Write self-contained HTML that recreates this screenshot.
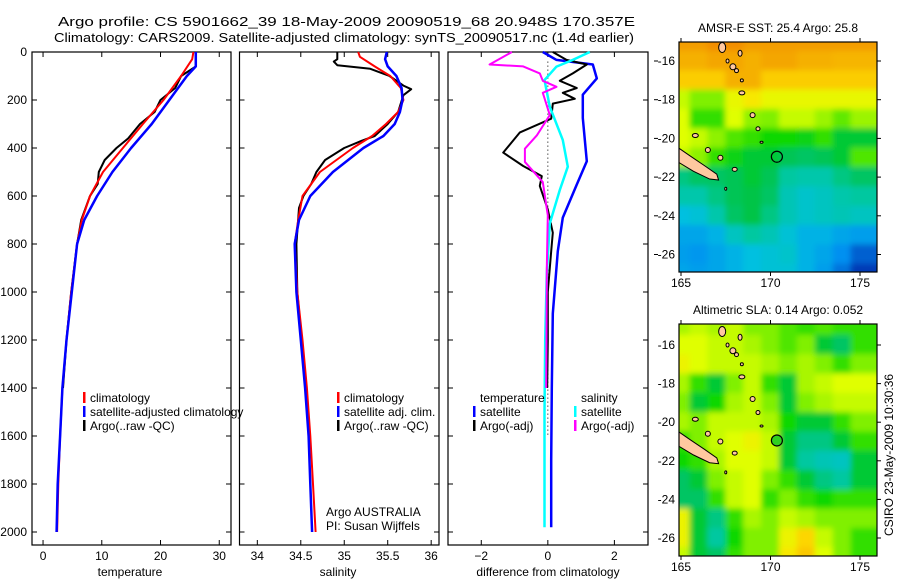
<!DOCTYPE html>
<html><head><meta charset="utf-8"><style>
body{margin:0;background:#fff}
svg{display:block;font-family:"Liberation Sans",sans-serif}
</style></head><body>
<svg id="fig" width="900" height="580" viewBox="0 0 900 580" xmlns="http://www.w3.org/2000/svg">
<defs>
<filter id="blur" filterUnits="userSpaceOnUse" x="640" y="0" width="280" height="580"><feGaussianBlur stdDeviation="3"/></filter>
<clipPath id="clipTop"><rect x="679" y="42" width="198" height="230"/></clipPath>
<clipPath id="clipBot"><rect x="679" y="324" width="198" height="232"/></clipPath>
</defs>
<text x="58" y="26" font-size="13" textLength="577" lengthAdjust="spacingAndGlyphs">Argo profile: CS 5901662_39 18-May-2009 20090519_68 20.948S 170.357E</text>
<text x="54" y="42" font-size="13" textLength="580" lengthAdjust="spacingAndGlyphs">Climatology: CARS2009. Satellite-adjusted climatology: synTS_20090517.nc (1.4d earlier)</text>
<g id="plots"></g>
<g id="maps"></g>
<text transform="translate(893,455) rotate(-90)" font-size="12" text-anchor="middle">CSIRO 23-May-2009 10:30:36</text>
</svg>
<script>
// ---------- profile data ----------
const depthTicks=[0,200,400,600,800,1000,1200,1400,1600,1800,2000];
const tempTicks=[0,10,20,30];
const salTicks=[34,34.5,35,35.5,36];
const diffTicks=[-2,0,2];
const tClimD=[0,30,100,200,300,400,500,600,700,800,1000,1200,1400,1600,1800,2000];
const tClim=[25.6,25.4,23.5,20.5,17,13.6,10.2,8,6.6,5.8,4.8,4.0,3.3,2.9,2.6,2.4];
const tSatD=[0,60,100,200,300,400,500,600,700,800,1000,1200,1400,1600,1800,2000];
const tSat=[26,26,24.5,21.5,18.5,15,11.8,9.2,7,5.8,4.9,4.0,3.3,2.9,2.5,2.3];
const tArgD=[0,60,100,150,200,250,300,360,400,450,500,550,600,700,800,1000,1200,1400];
const tArg=[26,26,23.5,22.5,20,19,16.5,14.5,12.5,10.5,9.5,9.3,8,6.5,5.8,4.8,4.0,3.4];
const sClimD=[0,20,60,100,150,200,250,300,350,400,500,600,700,800,1000,1200,1400,1600,1800,2000];
const sClim=[35.16,35.18,35.35,35.53,35.65,35.68,35.62,35.48,35.32,35.1,34.72,34.52,34.47,34.43,34.46,34.52,34.57,34.61,34.64,34.67];
const sSatD=[0,30,60,100,150,200,250,300,350,400,500,600,700,800,1000,1200,1400,1600,1800,2000];
const sSat=[35.49,35.47,35.5,35.6,35.66,35.67,35.64,35.58,35.45,35.22,34.87,34.61,34.48,34.43,34.45,34.5,34.55,34.59,34.61,34.63];
const sArgD=[0,30,40,55,70,100,140,155,180,250,300,350,370,400,450,500,550,600,650,800,1000,1200,1400];
const sArg=[34.92,34.92,34.88,34.92,35.3,35.52,35.68,35.77,35.68,35.62,35.5,35.35,35.2,35.0,34.78,34.68,34.62,34.53,34.48,34.45,34.46,34.51,34.56];
const dTSatD=[0,33,52,110,178,275,455,552,690,830,1090,1400,1700,1980];
const dTSat=[-0.15,0.26,1.35,1.47,1.05,1.05,1.17,0.87,0.45,0.3,0.15,0.12,0.1,0.1];
const dSSatD=[0,33,61,117,228,367,478,575,714,922,1200,1500,1980];
const dSSat=[1.26,0.75,0.26,-0.1,0.06,0.45,0.6,0.36,0.06,-0.03,-0.08,-0.1,-0.1];
const dTArgD=[0,33,52,89,120,150,170,195,215,278,335,419,475,517,558,656,753,830,1000,1200,1400];
const dTArg=[0.15,0.56,1.17,0.75,0.36,0.87,0.45,0.81,0.15,0.1,-0.84,-1.34,-0.74,-0.18,-0.24,0,0.15,0.1,0,0,-0.02];
const dSArgD=[0,52,60,89,120,145,170,263,347,403,458,542,681,900,1200,1400];
const dSArg=[-1.08,-1.75,-0.74,-0.24,-0.15,0.26,-0.15,0.06,-0.33,-0.69,-0.69,-0.15,0,-0.03,-0.04,-0.05];

const NS="http://www.w3.org/2000/svg";
function mk(tag,attrs,parent){const e=document.createElementNS(NS,tag);for(const k in attrs)e.setAttribute(k,attrs[k]);parent.appendChild(e);return e;}
const plots=document.getElementById('plots');
const yD=d=>52+d*0.24;
const panels=[
 {name:'temperature',x0:32,x1:231,v0:-1.88,v1:32.0,ticks:tempTicks,label:'temperature',labelX:130},
 {name:'salinity',x0:239.5,x1:439,v0:33.795,v1:36.09,ticks:salTicks,label:'salinity',labelX:338},
 {name:'difference',x0:448,x1:648,v0:-3,v1:3.01,ticks:diffTicks,label:'difference from climatology',labelX:548}
];
panels.forEach((p,i)=>{
 p.sx=v=>p.x0+(v-p.v0)/(p.v1-p.v0)*(p.x1-p.x0);
 const g=mk('g',{},plots);
 
 
 const fr=mk('rect',{x:p.x0,y:52,width:p.x1-p.x0,height:493,fill:'none',stroke:'#000','stroke-width':1.2},g);
 
 
 p.ticks.forEach(t=>{
  const x=p.sx(t);
  mk('line',{x1:x,x2:x,y1:545,y2:540,stroke:'#000'},g);
  mk('line',{x1:x,x2:x,y1:52,y2:57,stroke:'#000'},g);
  const tx=mk('text',{x:x,y:560,'font-size':12,'text-anchor':'middle'},g);
  
  
  tx.textContent=(t<0?'\u2212'+(-t):String(t));
 });
 depthTicks.forEach(d=>{
  const y=yD(d);
  mk('line',{x1:p.x0,x2:p.x0+5,y1:y,y2:y,stroke:'#000'},g);
  mk('line',{x1:p.x1,x2:p.x1-5,y1:y,y2:y,stroke:'#000'},g);
  if(i===0){const tx=mk('text',{x:27,y:y+4,'font-size':12,'text-anchor':'end'},g);
   
   
   tx.textContent=d;}
 });
 const lab=mk('text',{x:p.labelX,y:576,'font-size':12,'text-anchor':'middle'},g);
 
 
 lab.textContent=p.label;
});
function series(p,ds,vs,color,w,name){
 const pts=ds.map((d,k)=>p.sx(vs[k]).toFixed(1)+','+yD(d).toFixed(1)).join(' ');
 const pl=mk('polyline',{points:pts,fill:'none',stroke:color,'stroke-width':w,'stroke-linejoin':'round'},plots);
 
 
}
const [P1,P2,P3]=panels;
const zl=mk('line',{x1:P3.sx(0),x2:P3.sx(0),y1:yD(40),y2:yD(1600),stroke:'#000','stroke-dasharray':'1,3'},plots);


series(P1,tArgD,tArg,'#000',2,'temperature-argo-line');
series(P1,tClimD,tClim,'#f00',2,'temperature-climatology-line');
series(P1,tSatD,tSat,'#00f',2.5,'temperature-satellite-line');
series(P2,sArgD,sArg,'#000',2,'salinity-argo-line');
series(P2,sClimD,sClim,'#f00',2,'salinity-climatology-line');
series(P2,sSatD,sSat,'#00f',2.5,'salinity-satellite-line');
series(P3,dTSatD,dTSat,'#00f',2.5,'temperature-satellite-diff-line');
series(P3,dTArgD,dTArg,'#000',2,'temperature-argo-diff-line');
series(P3,dSSatD,dSSat,'#0ff',2.5,'salinity-satellite-diff-line');
series(P3,dSArgD,dSArg,'#f0f',2,'salinity-argo-diff-line');
function legend(x,y,items,name){
 const g=mk('g',{},plots);
 
 
 items.forEach((it,k)=>{
  const yy=y+k*14;
  if(it[1]){mk('rect',{x:x,y:yy-10,width:2.5,height:11,fill:it[1]},g);}
  const t=mk('text',{x:x+7,y:yy,'font-size':12},g);
  
  
  t.textContent=it[0];
 });
}
legend(83,402,[['climatology','#f00'],['satellite-adjusted climatology','#00f'],['Argo(..raw -QC)','#000']],'temperature-legend');
legend(337,402,[['climatology','#f00'],['satellite adj. clim.','#00f'],['Argo(..raw -QC)','#000']],'salinity-legend');
legend(473,402,[['temperature',null],['satellite','#00f'],['Argo(-adj)','#000']],'diff-temperature-legend');
legend(574,402,[['salinity',null],['satellite','#0ff'],['Argo(-adj)','#f0f']],'diff-salinity-legend');
const a1=mk('text',{x:326,y:516,'font-size':12},plots);a1.textContent='Argo AUSTRALIA';


const a2=mk('text',{x:326,y:530,'font-size':12},plots);a2.textContent='PI: Susan Wijffels';



// ---------- maps ----------
const lonTicks=[165,170,175];
const latTicks=[-16,-18,-20,-22,-24,-26];
const sstGrid=[
[0.84,0.84,0.87,0.87,0.84,0.84,0.84,0.84,0.84,0.84,0.84],
[0.8,0.8,0.82,0.82,0.8,0.82,0.82,0.8,0.8,0.79,0.79],
[0.74,0.74,0.74,0.8,0.8,0.74,0.74,0.74,0.74,0.74,0.74],
[0.6,0.55,0.55,0.64,0.68,0.64,0.64,0.64,0.64,0.64,0.64],
[0.62,0.5,0.5,0.62,0.56,0.55,0.6,0.6,0.57,0.53,0.57],
[0.62,0.6,0.56,0.52,0.5,0.48,0.48,0.47,0.5,0.45,0.45],
[0.6,0.56,0.5,0.47,0.45,0.45,0.43,0.42,0.43,0.45,0.52],
[0.4,0.42,0.42,0.43,0.45,0.43,0.38,0.37,0.37,0.4,0.42],
[0.37,0.37,0.4,0.43,0.44,0.42,0.36,0.34,0.35,0.37,0.38],
[0.32,0.33,0.37,0.42,0.44,0.4,0.36,0.34,0.35,0.36,0.35],
[0.28,0.28,0.3,0.35,0.38,0.36,0.33,0.3,0.3,0.28,0.27],
[0.27,0.26,0.28,0.3,0.32,0.33,0.34,0.3,0.28,0.25,0.2],
[0.28,0.27,0.28,0.3,0.32,0.33,0.33,0.3,0.27,0.22,0.16]];
const slaGrid=[
[0.58,0.6,0.58,0.6,0.55,0.55,0.52,0.5,0.52,0.5,0.5],
[0.62,0.62,0.6,0.6,0.58,0.55,0.52,0.55,0.45,0.42,0.5],
[0.65,0.62,0.6,0.6,0.6,0.58,0.55,0.58,0.55,0.5,0.55],
[0.58,0.5,0.45,0.55,0.6,0.5,0.45,0.58,0.6,0.62,0.62],
[0.55,0.45,0.48,0.58,0.6,0.55,0.45,0.55,0.58,0.6,0.6],
[0.58,0.55,0.6,0.6,0.6,0.58,0.48,0.45,0.45,0.5,0.55],
[0.5,0.55,0.6,0.62,0.65,0.6,0.45,0.4,0.4,0.45,0.5],
[0.48,0.5,0.58,0.62,0.62,0.6,0.45,0.38,0.36,0.35,0.45],
[0.42,0.45,0.55,0.6,0.62,0.55,0.5,0.45,0.4,0.38,0.45],
[0.42,0.42,0.5,0.6,0.62,0.5,0.55,0.5,0.48,0.5,0.5],
[0.65,0.45,0.4,0.5,0.58,0.55,0.6,0.58,0.55,0.55,0.55],
[0.65,0.45,0.38,0.48,0.55,0.55,0.65,0.72,0.6,0.55,0.5],
[0.6,0.45,0.42,0.5,0.55,0.55,0.68,0.75,0.62,0.55,0.5]];
const argoLon=170.357, argoLat=-20.948;
const cmapStops=[[0.15,[0,48,176]],[0.25,[0,144,240]],[0.32,[0,192,224]],[0.38,[0,200,160]],[0.44,[0,196,70]],[0.48,[16,216,0]],[0.55,[128,240,0]],[0.62,[224,255,0]],[0.7,[255,224,0]],[0.8,[245,176,0]],[0.9,[240,128,0]]];
function cmap(v){
 if(v<=cmapStops[0][0])return 'rgb('+cmapStops[0][1]+')';
 for(let i=1;i<cmapStops.length;i++){if(v<=cmapStops[i][0]){const a=cmapStops[i-1],b=cmapStops[i];const f=(v-a[0])/(b[0]-a[0]);return 'rgb('+a[1].map((c,k)=>Math.round(c+(b[1][k]-c)*f)).join(',')+')';}}
 return 'rgb('+cmapStops[cmapStops.length-1][1]+')';
}
const maps=document.getElementById('maps');
// small tick marks between difference panel and SST map
latTicks.forEach(l=>{mk('line',{x1:654,x2:658,y1:61+(-16-l)*19.35,y2:61+(-16-l)*19.35,stroke:'#000'},maps);});
function drawMap(m){
 const g=mk('g',{},maps);
 
 
 const sx=lon=>681+(lon-165)*17.9;
 const sy=lat=>m.y16+(-16-lat)*m.dy;
 const cg=mk('g',{'clip-path':'url(#'+m.clip+')'},g);
 const hg=mk('g',{filter:'url(#blur)'},cg);
 m.grid.forEach((row,r)=>row.forEach((v,c)=>{
  const w=(c===row.length-1)?40:18.9;
  const cell=mk('rect',{x:sx(164.5+c)-(c===0?20:0.5),y:sy(-14.5-r)-(r===0?20:0.5),width:w+(c===0?20:0),height:m.dy+1+(r===0?20:0)+(r===m.grid.length-1?20:0),fill:cmap(v)},hg);
  
  
 }));
 const land='#ffc8a0';
 const nc=[[164.8,-20.45],[165.5,-20.9],[166.3,-21.4],[167.0,-21.85],[167.1,-22.15],[166.6,-22.1],[165.7,-21.7],[164.8,-21.2]];
 const lp=mk('polygon',{points:nc.map(p=>sx(p[0])+','+sy(p[1])).join(' '),fill:land,stroke:'#000','stroke-width':1},cg);
 
 
 const isl=[[167.3,-15.3,3.5,5],[167.9,-16.3,3,3],[167.6,-16.0,1.5,2],[168.3,-15.6,2,3],[168.1,-16.5,2,2],[168.4,-17.65,3,2],[168.4,-17.0,1.5,1.5],[169.0,-18.8,2.5,2.5],[169.3,-19.5,2,2],[165.8,-19.85,3,2],[166.5,-20.6,2.5,2.5],[167.2,-21.0,2.5,2.5],[168.0,-21.6,2.5,2],[169.5,-20.2,1.5,1],[167.5,-22.6,1,1.5]];
 isl.forEach(s=>{const e=mk('ellipse',{cx:sx(s[0]),cy:sy(s[1]),rx:s[2],ry:s[3],fill:land,stroke:'#000','stroke-width':1},cg);
  
  });
 const ac=mk('circle',{cx:sx(argoLon),cy:sy(argoLat),r:5.5,fill:m.dotFill,stroke:'#000','stroke-width':1.2},g);
 
 
 const fr=mk('rect',{x:679,y:m.top,width:198,height:m.h,fill:'none',stroke:'#000','stroke-width':1.2},g);
 
 
 lonTicks.forEach(l=>{const x=sx(l);
  mk('line',{x1:x,x2:x,y1:m.top+m.h,y2:m.top+m.h+4,stroke:'#000'},g);
  mk('line',{x1:x,x2:x,y1:m.top,y2:m.top-4,stroke:'#000'},g);
  const t=mk('text',{x:x,y:m.top+m.h+15,'font-size':12,'text-anchor':'middle'},g);
  
  
  t.textContent=l;});
 latTicks.forEach(l=>{const y=sy(l);
  mk('line',{x1:877,x2:881,y1:y,y2:y,stroke:'#000'},g);
  const t=mk('text',{x:675,y:y+4,'font-size':12,'text-anchor':'end'},g);
  
  
  t.textContent='-'+(-l);});
 const tt=mk('text',{x:778,y:m.top-10,'font-size':12,'text-anchor':'middle'},g);
 
 
 tt.textContent=m.title;
}
drawMap({name:'sst-map',grid:sstGrid,top:42,h:230,y16:61,dy:19.35,clip:'clipTop',dotFill:'none',title:'AMSR-E SST: 25.4 Argo: 25.8'});
drawMap({name:'sla-map',grid:slaGrid,top:324,h:232,y16:345,dy:19.3,clip:'clipBot',dotFill:'#30d020',title:'Altimetric SLA: 0.14 Argo: 0.052'});
</script>
</body></html>
